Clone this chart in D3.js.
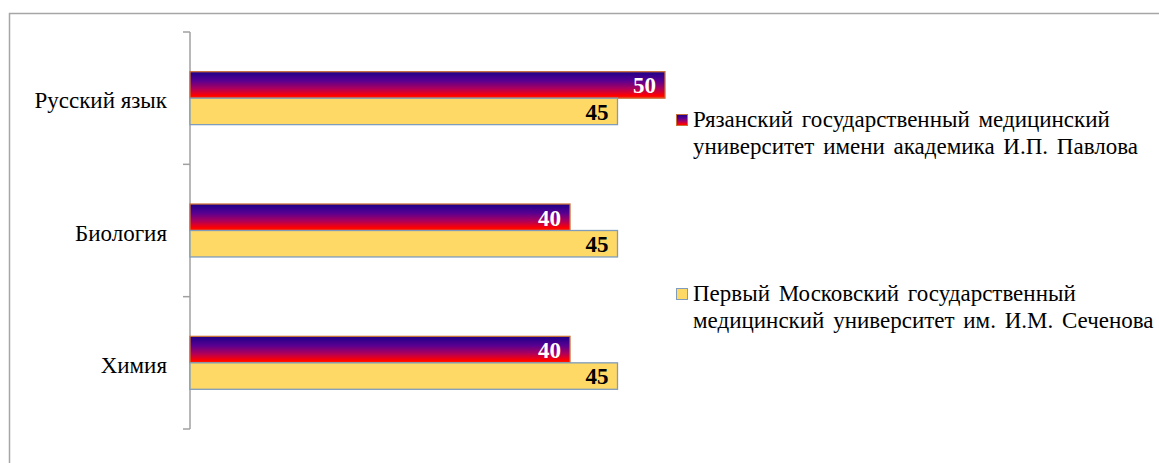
<!DOCTYPE html>
<html>
<head>
<meta charset="utf-8">
<script src="https://cdn.jsdelivr.net/npm/d3@7"></script>
<style>
  html, body { margin: 0; padding: 0; background: #fff; }
  svg { display: block; }
  svg text { font-family: 'Times New Roman', 'Liberation Serif', 'DejaVu Serif', serif; }
</style>
</head>
<body>
<div id="chart"></div>
<script>
const categories = ['Русский язык', 'Биология', 'Химия'];
const seriesNames = [
  ['Рязанский государственный медицинский', 'университет имени академика И.П. Павлова'],
  ['Первый Московский государственный', 'медицинский университет им. И.М. Сеченова']
];
const ryazanValues = [50, 40, 40];
const moscowValues = [45, 45, 45];

const W = 1159, H = 463;
const svg = d3.select('#chart').append('svg').attr('width', W).attr('height', H);

const defs = svg.append('defs');
const grad = defs.append('linearGradient').attr('id', 'ryazan-grad')
  .attr('x1', 0).attr('x2', 0).attr('y1', 0).attr('y2', 1);
[[0, '#1c0088'], [0.35, '#5a0090'], [0.65, '#b0005a'], [0.9, '#ff0000'], [1, '#ff2000']]
  .forEach(([o, c]) => grad.append('stop').attr('offset', o * 100 + '%').attr('stop-color', c));

// outer chart border (continues past right/bottom edge)
svg.append('path')
  .attr('d', `M9.5,${H} V13.5 H${W}`)
  .attr('fill', 'none').attr('stroke', '#a6a6a6').attr('stroke-width', 1.5);

const plot = { left: 190, right: 665, top: 32, bottom: 429 };

const x = d3.scaleLinear().domain([0, 50]).range([plot.left, plot.right]);
const y = d3.scaleBand().domain(categories).range([plot.top, plot.bottom])
  .paddingInner(0.6).paddingOuter(0.3);
const ySub = d3.scaleBand().domain([0, 1]).range([0, y.bandwidth()]);

// vertical axis with ticks at category boundaries
const axisG = svg.append('g').attr('stroke', '#a0a0a0').attr('stroke-width', 1.5);
axisG.append('line').attr('x1', plot.left).attr('x2', plot.left)
  .attr('y1', plot.top).attr('y2', plot.bottom);
const bounds = d3.range(categories.length + 1).map(i => plot.top + i * y.step());
axisG.selectAll('.tick').data(bounds).enter().append('line')
  .attr('x1', plot.left - 7).attr('x2', plot.left)
  .attr('y1', d => d).attr('y2', d => d);

svg.append('g').selectAll('text').data(categories).enter().append('text')
  .attr('x', plot.left - 23)
  .attr('y', d => y(d) + y.bandwidth() / 2 + 2)
  .attr('dy', '0.35em')
  .attr('text-anchor', 'end')
  .attr('font-size', 23).attr('fill', '#000')
  .text(d => d);

const series = [
  { values: ryazanValues, fill: 'url(#ryazan-grad)', stroke: '#c8703a', label: '#fff' },
  { values: moscowValues, fill: '#fed966', stroke: '#7f9cbc', label: '#000' }
];

series.forEach((s, si) => {
  const g = svg.append('g');
  const rows = categories.map((c, i) => ({ c, v: s.values[i] }));
  g.selectAll('rect').data(rows).enter().append('rect')
    .attr('x', x(0))
    .attr('y', d => y(d.c) + ySub(si))
    .attr('width', d => x(d.v) - x(0))
    .attr('height', ySub.bandwidth())
    .attr('fill', s.fill)
    .attr('stroke', s.stroke).attr('stroke-width', 1.3);
  g.selectAll('text').data(rows).enter().append('text')
    .attr('x', d => x(d.v) - 9)
    .attr('y', d => y(d.c) + ySub(si) + ySub.bandwidth() / 2)
    .attr('dy', '0.36em')
    .attr('text-anchor', 'end')
    .attr('font-size', 23).attr('font-weight', 'bold')
    .attr('fill', s.label)
    .text(d => d.v);
});

// legend
const legendY = [120, 294];
const legend = svg.append('g');
seriesNames.forEach((lines, i) => {
  const s = series[i];
  legend.append('rect')
    .attr('x', 676.5).attr('y', legendY[i] - 5.5)
    .attr('width', 11).attr('height', 11)
    .attr('fill', s.fill).attr('stroke', s.stroke).attr('stroke-width', 1);
  const t = legend.append('text')
    .attr('x', 693).attr('y', legendY[i] + 7)
    .attr('font-size', 23).attr('fill', '#000')
    .attr('word-spacing', 3);
  lines.forEach((ln, j) => t.append('tspan').attr('x', 693).attr('dy', j === 0 ? 0 : 27).text(ln));
});
</script>
</body>
</html>
